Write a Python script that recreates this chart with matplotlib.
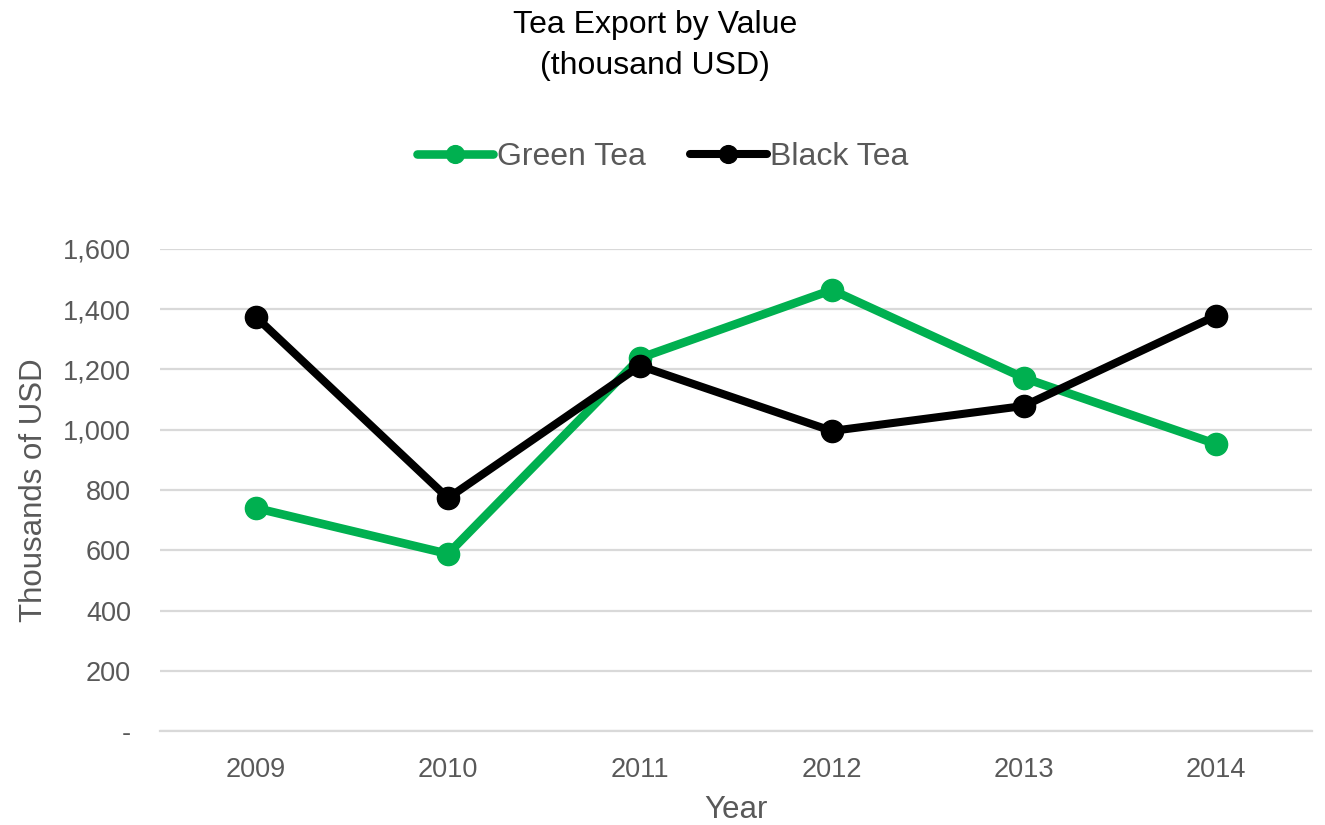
import matplotlib
matplotlib.use("Agg")
import matplotlib.pyplot as plt
from matplotlib.ticker import FuncFormatter, MultipleLocator

plt.rcParams['font.family'] = ['Liberation Sans', 'DejaVu Sans']

years = ["2009", "2010", "2011", "2012", "2013", "2014"]
green_tea = [740, 588, 1238, 1464, 1172, 953]
black_tea = [1374, 773, 1212, 996, 1079, 1378]

GREEN = "#00B050"
BLACK = "#000000"
TEXT = "#595959"
GRID = "#D9D9D9"

fig = plt.figure(figsize=(13.25, 8.25), dpi=100)
ax = fig.add_axes([0.1208, 0.1139, 0.8692, 0.5843])

x = list(range(len(years)))
ax.plot(x, green_tea, color=GREEN, lw=6.2, marker="o", ms=16,
        label="Green Tea", solid_capstyle="round", zorder=3)
ax.plot(x, black_tea, color=BLACK, lw=5.8, marker="o", ms=16,
        label="Black Tea", solid_capstyle="round", zorder=4)

ax.set_xlim(-0.5, len(years) - 0.5)
ax.set_ylim(0, 1600)
ax.yaxis.set_major_locator(MultipleLocator(200))
ax.yaxis.set_major_formatter(
    FuncFormatter(lambda v, p: "-" if v == 0 else f"{int(v):,}"))
ax.set_xticks(x)
ax.set_xticklabels(years)

ax.grid(axis="y", color=GRID, lw=1.6, zorder=0)
ax.set_axisbelow(True)
for side in ("top", "right", "left"):
    ax.spines[side].set_visible(False)
ax.spines["bottom"].set_color(GRID)
ax.spines["bottom"].set_linewidth(1.6)
ax.tick_params(axis="both", length=0, labelsize=19.5, labelcolor=TEXT)
ax.tick_params(axis="y", pad=21)
ax.tick_params(axis="x", pad=19)
for line in ax.get_lines():
    line.set_clip_on(False)

ax.set_xlabel("Year", fontsize=22.5, color=TEXT, labelpad=8)
ax.set_ylabel("Thousands of USD", fontsize=22.5, color=TEXT, labelpad=10)

fig.text(0.4945, 1 - 25 / 825, "Tea Export by Value", ha="center",
         va="center", fontsize=23, color="#000000")
fig.text(0.4945, 1 - 66 / 825, "(thousand USD)", ha="center",
         va="center", fontsize=23, color="#000000")

fig.legend(loc="center", bbox_to_anchor=(0.5, 1 - 157 / 825), ncol=2,
           frameon=False, fontsize=23, labelcolor=TEXT, handlelength=2.4,
           handletextpad=0.1, columnspacing=1.4, markerscale=0.8)

fig.savefig("out.png", dpi=100)
